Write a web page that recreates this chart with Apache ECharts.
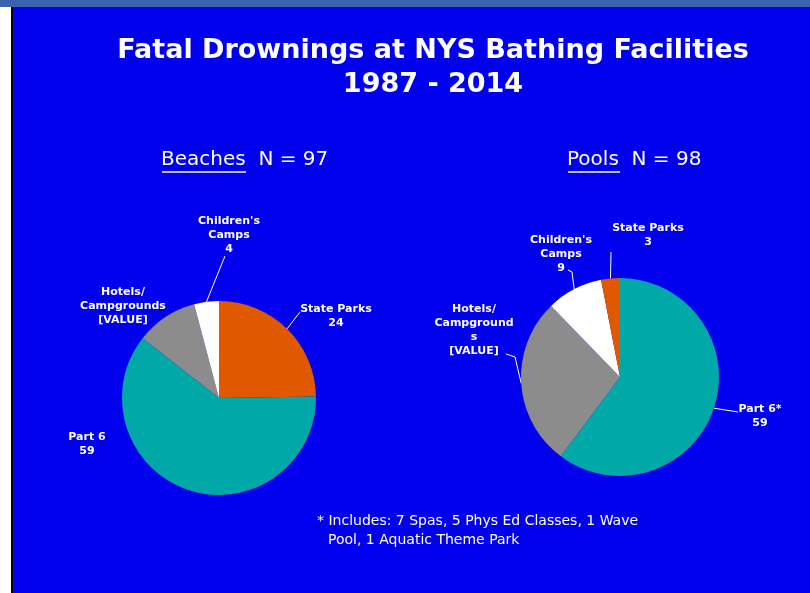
<!DOCTYPE html>
<html><head><meta charset="utf-8">
<script src="https://cdn.jsdelivr.net/npm/echarts@6/dist/echarts.min.js"></script>
<style>html,body{margin:0;padding:0;background:#fff}#c{width:810px;height:593px}</style>
</head><body><div id="c"></div>
<script>
// ---- data ----
const chartTitle = 'Fatal Drownings at NYS Bathing Facilities\n1987 - 2014';
const beachTitle = 'Beaches';
const beachN = 'N = 97';
const poolTitle = 'Pools';
const poolN = 'N = 98';
const beachNames = ['State Parks', 'Part 6', 'Hotels/\nCampgrounds', "Children's\nCamps"];
const beachValues = [24, 59, 10, 4];
const poolNames = ['Part 6*', 'Hotels/\nCampground\ns', "Children's\nCamps", 'State Parks'];
const poolValues = [59, 27, 9, 3];
const valuePlaceholder = '[VALUE]';
const footnoteLines = ['* Includes: 7 Spas, 5 Phys Ed Classes, 1 Wave', 'Pool, 1 Aquatic Theme Park'];

// ---- styles ----
const catColor = {
  'State Parks': '#e05800',
  'Part 6': '#00a8a8',
  'Part 6*': '#00a8a8',
  'Hotels': '#8c8c8c',
  'Children': '#ffffff'
};
function colorFor(name) {
  if (name.indexOf('Hotels') === 0) return catColor['Hotels'];
  if (name.indexOf('Children') === 0) return catColor['Children'];
  return catColor[name];
}
// label placement (style): centre of label and leader-line bend points
const labelSpots = [
  [ {x: 336, y: 316, line: [[300, 312]]},
    {x: 87,  y: 444, line: null},
    {x: 123, y: 306, line: null},
    {x: 229, y: 235, line: [[225, 256]]} ],
  [ {x: 760, y: 416, line: [[738, 412]]},
    {x: 474, y: 330, line: [[515, 357], [506, 354]]},
    {x: 561, y: 254, line: [[572, 272], [568, 270]]},
    {x: 648, y: 235, line: [[611, 252]]} ]
];

function makeData(names, values, sIdx) {
  return names.map((n, i) => ({
    name: n,
    value: values[i],
    itemStyle: {color: colorFor(n)},
    labelLine: {show: !!labelSpots[sIdx][i].line}
  }));
}

const labelStyle = {
  show: true,
  position: 'outside',
  color: '#ffffff',
  fontFamily: 'DejaVu Sans',
  fontWeight: 'bold',
  fontSize: 11,
  lineHeight: 14,
  align: 'center',
  formatter: p => p.name + '\n' + (p.name.indexOf('Hotels') === 0 ? valuePlaceholder : p.value)
};

function pieSeries(names, values, sIdx, center, radius) {
  return {
    type: 'pie',
    center: center,
    radius: radius,
    startAngle: 90,
    clockwise: true,
    avoidLabelOverlap: false,
    animation: false,
    silent: true,
    itemStyle: {borderWidth: 0},
    label: labelStyle,
    labelLine: {show: true, length: 10, length2: 10, lineStyle: {color: '#ffffff', width: 1}},
    labelLayout: function (params) {
      const s = labelSpots[sIdx][params.dataIndex];
      const out = {x: s.x, y: s.y, align: 'center', verticalAlign: 'middle'};
      if (s.line && params.labelLinePoints) {
        const start = params.labelLinePoints[0];
        const pts = [start].concat(s.line);
        if (pts.length === 2) pts.push(pts[1]);
        out.labelLinePoints = pts;
      }
      return out;
    },
    emphasis: {disabled: true},
    data: makeData(names, values, sIdx)
  };
}

const chart = echarts.init(document.getElementById('c'), null, {renderer: 'canvas'});
const subStyle = {color: '#ffffff', fontFamily: 'DejaVu Sans', fontWeight: 'normal', fontSize: 20, lineHeight: 24};
const noteStyle = {color: '#ffffff', fontFamily: 'DejaVu Sans', fontWeight: 'normal', fontSize: 14, lineHeight: 19};
chart.setOption({
  backgroundColor: '#0000ee',
  title: [
    {text: chartTitle, left: 428, top: 29, textAlign: 'center',
     textStyle: {color: '#ffffff', fontFamily: 'DejaVu Sans', fontWeight: 'bold', fontSize: 27, lineHeight: 34}},
    {text: beachTitle + '  ' + beachN, left: 161, top: 148, padding: 0, textStyle: subStyle},
    {text: poolTitle + '  ' + poolN, left: 567, top: 148, padding: 0, textStyle: subStyle},
    {text: footnoteLines[0], left: 317, top: 512, padding: 0, textStyle: noteStyle},
    {text: footnoteLines[1], left: 328, top: 531, padding: 0, textStyle: noteStyle}
  ],
  graphic: [
    {type: 'rect', left: 0, top: 0, shape: {width: 810, height: 7}, style: {fill: '#3a64ad'}, silent: true},
    {type: 'rect', left: 0, top: 7, shape: {width: 11, height: 586}, style: {fill: '#ffffff'}, silent: true},
    {type: 'rect', left: 11, top: 7, shape: {width: 2, height: 586}, style: {fill: '#000000'}, silent: true},
    {type: 'line', shape: {x1: 162, y1: 172, x2: 246, y2: 172}, style: {stroke: '#ffffff', lineWidth: 1.5}, silent: true},
    {type: 'line', shape: {x1: 568, y1: 172, x2: 620, y2: 172}, style: {stroke: '#ffffff', lineWidth: 1.5}, silent: true}
  ],
  series: [
    pieSeries(beachNames, beachValues, 0, [219, 398], 97),
    pieSeries(poolNames, poolValues, 1, [620, 377], 99)
  ]
});
</script>
</body></html>
